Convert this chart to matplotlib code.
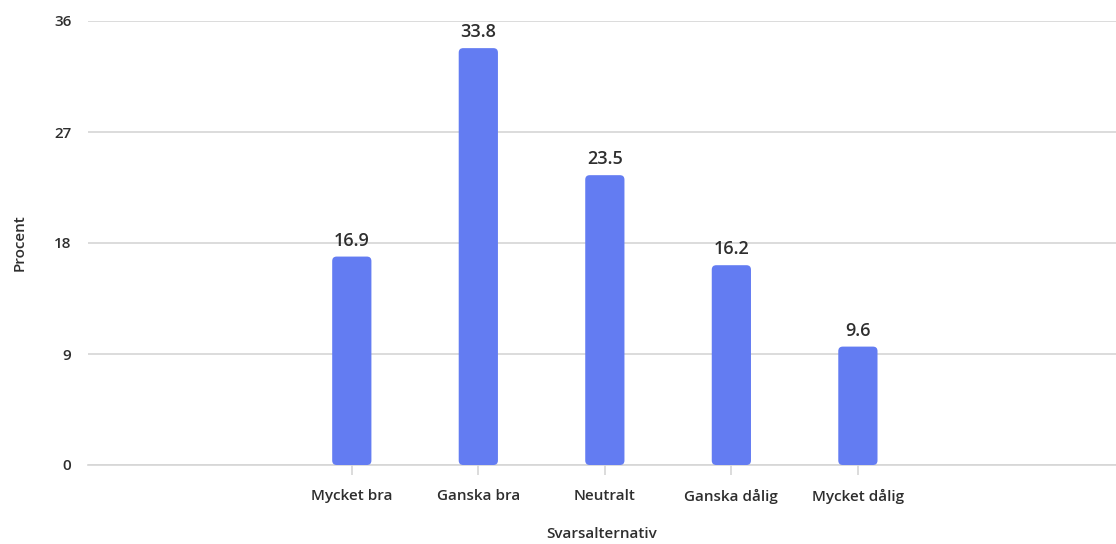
import matplotlib
matplotlib.use("Agg")
import matplotlib.pyplot as plt
from matplotlib.patches import FancyBboxPatch

categories = ["Mycket bra", "Ganska bra", "Neutralt", "Ganska dålig", "Mycket dålig"]
values = [16.9, 33.8, 23.5, 16.2, 9.6]
yticks = [0, 9, 18, 27, 36]

plt.rcParams['font.family'] = ['Open Sans', 'DejaVu Sans']

W, H = 1116, 544
fig = plt.figure(figsize=(W / 100, H / 100), dpi=100)
ax = fig.add_axes([88 / W, 1 - 465 / H, (1116 - 88) / W, (465 - 21) / H])

bar_color = "#637CF2"
text_color = "#2e2e2e"
grid_color = "#d6d6d6"

x = list(range(len(categories)))
bw = 0.31
bars = ax.bar(x, values, width=bw, color=bar_color, alpha=0)
ax.set_xlim(-2.085, 6.04)
ax.set_ylim(0, 36)

# rounded bars
px_x = (6.04 + 2.085) / (1116 - 88)
px_y = 36 / (465 - 21)
r_px = 4.5
for b in bars:
    p = FancyBboxPatch((b.get_x(), b.get_y()), b.get_width(), b.get_height(),
                       boxstyle=f"round,pad=0,rounding_size={r_px * px_x}",
                       mutation_aspect=px_y / px_x,
                       facecolor=bar_color, edgecolor="none", zorder=3)
    ax.add_patch(p)

for xi, v in zip(x, values):
    ax.annotate(f"{v}", (xi, v), xytext=(0, 5), textcoords="offset points",
                ha="center", va="bottom", fontsize=13, fontweight="semibold",
                color=text_color, zorder=4)

ax.set_yticks(yticks)
ax.set_yticklabels([str(t) for t in yticks])
ax.set_xticks(x)
ax.set_xticklabels(categories)
ax.grid(axis="y", color=grid_color, linewidth=1.2, zorder=0)
ax.set_axisbelow(True)
for s in ["top", "right", "left"]:
    ax.spines[s].set_visible(False)
ax.spines["bottom"].set_color(grid_color)
ax.spines["bottom"].set_linewidth(1.2)

ax.tick_params(axis="y", length=0, pad=12, labelsize=11, labelcolor=text_color)
ax.tick_params(axis="x", length=7, width=1.2, color=grid_color, pad=10,
               labelsize=11, labelcolor=text_color)
for lab in ax.get_xticklabels() + ax.get_yticklabels():
    lab.set_fontweight("semibold")

ax.set_xlabel("Svarsalternativ", fontsize=11, fontweight="semibold",
              color=text_color, labelpad=17)
ax.set_ylabel("Procent", fontsize=11, fontweight="semibold",
              color=text_color, labelpad=20)

fig.savefig("out.png", dpi=100)
